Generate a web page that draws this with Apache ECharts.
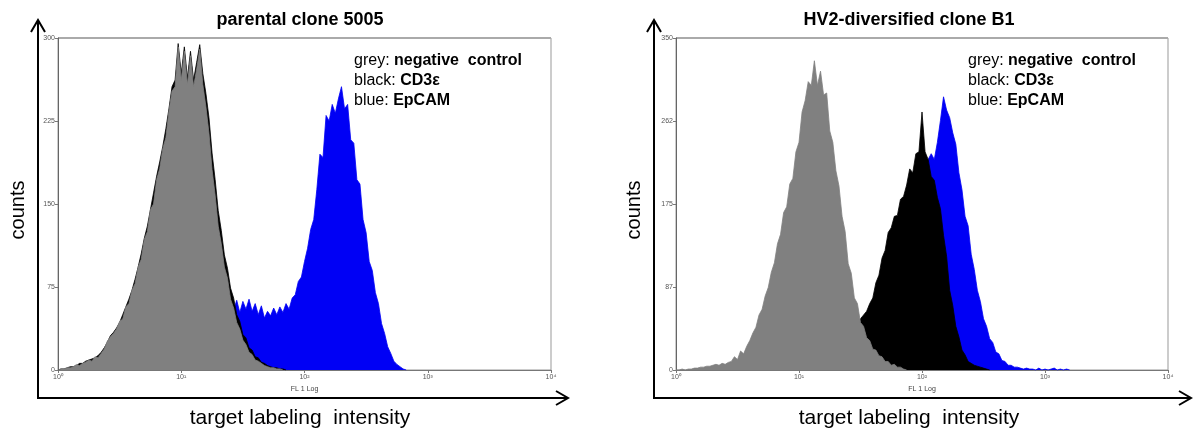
<!DOCTYPE html>
<html>
<head>
<meta charset="utf-8">
<script src="https://cdn.jsdelivr.net/npm/echarts@6/dist/echarts.min.js"></script>
<style>
html,body{margin:0;padding:0;background:#fff;}
#c{width:1196px;height:434px;}
</style>
</head>
<body>
<div id="c"></div>
<script>
// bin width in decades of the log axis
const STEP = 0.025;

// x tick labels (decades 0..4)
const xTickLabels = ['10\u2070', '10\u00b9', '10\u00b2', '10\u00b3', '10\u2074'];
const yTicksLeft = [0, 75, 150, 225, 300];
const yTicksRight = [0, 87, 175, 262, 350];

const titles = ['parental clone 5005', 'HV2-diversified clone B1'];

// ---- parental clone 5005 ----
const leftGreyStart = 0.0;
const leftGrey = [0,1,1,2,2,3,5,4,6,7,9,8,12,11,15,19,26,30,33,37,44,46,57,60,72,78,93,100,118,125,145,150,172,182,200,210,234,252,256,292,262,288,258,284,256,272,290,258,238,214,181,158,130,114,93,83,64,56,43,37,27,23,16,14,9,8,6,4,3,2,2,1,1,0];

const leftBlackStart = 0.0;
const leftBlack = [0,1,1,2,3,3,4,6,6,8,9,10,11,13,16,20,25,31,34,38,43,50,57,64,72,82,93,105,119,130,145,160,175,188,202,218,236,256,262,295,268,292,264,288,262,278,294,268,250,228,196,172,144,126,104,92,74,65,50,44,32,29,20,18,12,11,7,6,4,3,2,2,1,1,0];

const leftBlueStart = 1.25;
const leftBlue = [20,30,40,48,55,60,58,54,63,52,62,55,64,53,60,50,58,47,53,49,56,50,57,52,60,55,65,68,80,84,98,110,127,136,163,195,192,230,225,240,232,245,256,236,240,208,205,172,168,136,124,98,90,70,60,42,33,21,15,8,5,3,1,0];

// ---- HV2-diversified clone B1 ----
const rightGreyStart = 0.0;
const rightGrey = [0,0,1,0,1,1,2,2,3,3,4,4,5,6,5,7,6,8,9,14,11,20,17,25,31,39,45,58,64,78,87,103,113,133,143,166,172,196,202,230,240,272,284,304,300,326,300,315,290,292,252,240,210,194,162,146,112,102,76,70,50,46,34,31,22,21,15,14,9,9,5,6,3,3,1,0];

const rightBlackStart = 1.2;
const rightBlack = [2,4,6,9,13,18,24,30,36,40,46,50,54,58,62,70,76,92,100,118,126,145,150,162,163,180,183,195,212,208,228,230,272,230,222,204,200,182,170,142,120,84,68,46,35,21,16,9,7,5,4,3,2,1,0];

const rightBlueStart = 1.5;
const rightBlue = [2,4,6,9,12,16,22,30,40,52,66,82,100,118,136,152,170,188,200,208,214,218,222,228,222,240,263,288,274,266,250,238,208,190,162,152,122,106,84,72,54,46,33,29,19,17,10,9,5,5,3,3,2,1,2,1,1,0,2,0,1,0,1,2,0,1,0,1,0];

function pairs(start, arr) {
  return arr.map((v, i) => [+(start + i * STEP).toFixed(4), v]);
}

const FONT = 'Liberation Sans, Arial, sans-serif';
const COLORS = { grey: '#808080', black: '#000000', blue: '#0000f5' };

function histSeries(idx, name, color, start, arr, z) {
  return {
    type: 'line', name: name, xAxisIndex: idx, yAxisIndex: idx,
    data: pairs(start, arr), showSymbol: false, symbol: 'none',
    lineStyle: { color: color, width: 0.8 }, itemStyle: { color: color },
    areaStyle: { color: color, opacity: 1 }, z: z, silent: true, animation: false
  };
}

function xAxisDef(idx) {
  return {
    gridIndex: idx, type: 'value', min: 0, max: 4, interval: 1,
    name: 'FL 1 Log', nameLocation: 'middle', nameGap: 15,
    nameTextStyle: { fontSize: 7, color: '#444', fontFamily: FONT },
    axisLine: { show: true, lineStyle: { color: '#777', width: 1 } },
    axisTick: { show: true, length: 3, lineStyle: { color: '#777' } },
    axisLabel: { fontSize: 7, color: '#555', margin: 4, fontFamily: FONT,
      formatter: v => xTickLabels[Math.round(v)] },
    splitLine: { show: false }
  };
}

function yAxisDef(idx, max, labels) {
  return {
    gridIndex: idx, type: 'value', min: 0, max: max, interval: max / 4,
    axisLine: { show: true, lineStyle: { color: '#666', width: 1 } },
    axisTick: { show: true, length: 3, lineStyle: { color: '#777' } },
    axisLabel: { fontSize: 7, color: '#555', margin: 3, fontFamily: FONT,
      formatter: v => labels[Math.round(v / (max / 4))] },
    splitLine: { show: false }
  };
}

function legendTexts(x) {
  const rich = {
    n: { fontSize: 16, fontFamily: FONT, fill: '#000', color: '#000' },
    b: { fontSize: 16, fontFamily: FONT, fontWeight: 'bold', fill: '#000', color: '#000' }
  };
  const lines = [['grey: ', 'negative  control'], ['black: ', 'CD3\u03b5'], ['blue: ', 'EpCAM']];
  return lines.map((l, i) => ({
    type: 'text', x: x, y: 61 + i * 20, z: 100,
    style: { text: '{n|' + l[0] + '}{b|' + l[1] + '}', rich: rich, textVerticalAlign: 'middle', verticalAlign: 'middle' }
  }));
}

function frame(xv, xEnd, title, cx) {
  return [
    { type: 'line', shape: { x1: xv, y1: 399, x2: xv, y2: 20 }, style: { stroke: '#000', lineWidth: 2 } },
    { type: 'polyline', shape: { points: [[xv - 7, 32], [xv, 20], [xv + 7, 32]] }, style: { stroke: '#000', lineWidth: 2, fill: null } },
    { type: 'line', shape: { x1: xv - 1, y1: 398, x2: xEnd, y2: 398 }, style: { stroke: '#000', lineWidth: 2 } },
    { type: 'polyline', shape: { points: [[xEnd - 12, 391], [xEnd, 398], [xEnd - 12, 405]] }, style: { stroke: '#000', lineWidth: 2, fill: null } },
    { type: 'text', x: cx, y: 20, style: { text: title, font: 'bold 18px ' + FONT, fill: '#000', textAlign: 'center', textVerticalAlign: 'middle', align: 'center', verticalAlign: 'middle' } },
    { type: 'text', x: cx, y: 418, style: { text: 'target labeling  intensity', font: '21px ' + FONT, fill: '#000', textAlign: 'center', textVerticalAlign: 'middle', align: 'center', verticalAlign: 'middle' } },
    { type: 'text', x: xv - 20, y: 210, rotation: Math.PI / 2, style: { text: 'counts', font: '20px ' + FONT, fill: '#000', textAlign: 'center', textVerticalAlign: 'middle', align: 'center', verticalAlign: 'middle' } }
  ];
}

const chart = echarts.init(document.getElementById('c'), null, { renderer: 'canvas' });
chart.setOption({
  animation: false,
  backgroundColor: '#fff',
  grid: [
    { left: 58, right: 645, top: 38, bottom: 64, show: true, borderColor: '#999', borderWidth: 1 },
    { left: 676, right: 28, top: 38, bottom: 64, show: true, borderColor: '#999', borderWidth: 1 }
  ],
  xAxis: [xAxisDef(0), xAxisDef(1)],
  yAxis: [yAxisDef(0, 300, yTicksLeft), yAxisDef(1, 350, yTicksRight)],
  series: [
    histSeries(0, 'blue', COLORS.blue, leftBlueStart, leftBlue, 1),
    histSeries(0, 'black', COLORS.black, leftBlackStart, leftBlack, 2),
    histSeries(0, 'grey', COLORS.grey, leftGreyStart, leftGrey, 3),
    histSeries(1, 'blue', COLORS.blue, rightBlueStart, rightBlue, 1),
    histSeries(1, 'black', COLORS.black, rightBlackStart, rightBlack, 2),
    histSeries(1, 'grey', COLORS.grey, rightGreyStart, rightGrey, 3)
  ],
  graphic: [
    { type: 'line', shape: { x1: 58, y1: 38, x2: 551, y2: 38 }, style: { stroke: '#aaa', lineWidth: 2 } },
    { type: 'line', shape: { x1: 676, y1: 38, x2: 1168, y2: 38 }, style: { stroke: '#aaa', lineWidth: 2 } }
  ].concat(frame(38, 568, titles[0], 300), frame(654, 1191, titles[1], 909), legendTexts(354), legendTexts(968))
});
</script>
</body>
</html>
